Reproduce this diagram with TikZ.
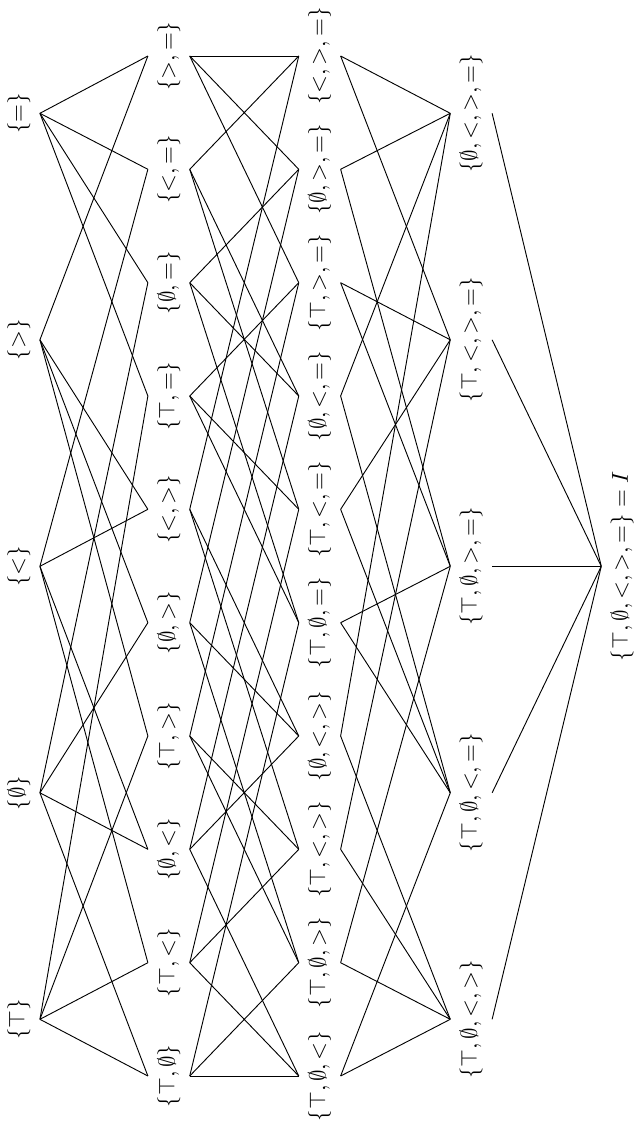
\documentclass[tikz,border=0pt]{standalone}
\begin{document}
\begin{tikzpicture}[x=0.4348pt,y=-0.4348pt,
  lbl/.style={rotate=90, inner sep=3.9pt},
  edge/.style={line width=0.4pt}]
\useasboundingbox (0,0) rectangle (643,1127);
% level 1
\node[lbl] (t) at (19,1019.3) {$\{\top\}$};
\node[lbl] (e) at (19,792.8) {$\{\emptyset\}$};
\node[lbl] (l) at (19,566.3) {$\{<\}$};
\node[lbl] (g) at (19,339.8) {$\{>\}$};
\node[lbl] (q) at (19,113.3) {$\{=\}$};
% level 2
\node[lbl] (te) at (168.8,1076) {$\{\top,\emptyset\}$};
\node[lbl] (tl) at (168.8,962.7) {$\{\top,<\}$};
\node[lbl] (el) at (168.8,849.3) {$\{\emptyset,<\}$};
\node[lbl] (tg) at (168.8,736) {$\{\top,>\}$};
\node[lbl] (eg) at (168.8,622.7) {$\{\emptyset,>\}$};
\node[lbl] (lg) at (168.8,509.3) {$\{<,>\}$};
\node[lbl] (tq) at (168.8,396) {$\{\top,=\}$};
\node[lbl] (eq) at (168.8,282.7) {$\{\emptyset,=\}$};
\node[lbl] (lq) at (168.8,169.3) {$\{<,=\}$};
\node[lbl] (gq) at (168.8,56) {$\{>,=\}$};
% level 3
\node[lbl] (tel) at (319.7,1076) {$\{\top,\emptyset,<\}$};
\node[lbl] (teg) at (319.7,962.7) {$\{\top,\emptyset,>\}$};
\node[lbl] (tlg) at (319.7,849.3) {$\{\top,<,>\}$};
\node[lbl] (elg) at (319.7,736) {$\{\emptyset,<,>\}$};
\node[lbl] (teq) at (319.7,622.7) {$\{\top,\emptyset,=\}$};
\node[lbl] (tlq) at (319.7,509.3) {$\{\top,<,=\}$};
\node[lbl] (elq) at (319.7,396) {$\{\emptyset,<,=\}$};
\node[lbl] (tgq) at (319.7,282.7) {$\{\top,>,=\}$};
\node[lbl] (egq) at (319.7,169.3) {$\{\emptyset,>,=\}$};
\node[lbl] (lgq) at (319.7,56) {$\{<,>,=\}$};
% level 4
\node[lbl] (telg) at (471.2,1019.3) {$\{\top,\emptyset,<,>\}$};
\node[lbl] (telq) at (471.2,792.8) {$\{\top,\emptyset,<,=\}$};
\node[lbl] (tegq) at (471.2,566.3) {$\{\top,\emptyset,>,=\}$};
\node[lbl] (tlgq) at (471.2,339.8) {$\{\top,<,>,=\}$};
\node[lbl] (elgq) at (471.2,113.3) {$\{\emptyset,<,>,=\}$};
% level 5
\node[lbl] (I) at (622.2,566.3) {$\{\top,\emptyset,<,>,=\} = I$};
% edges
\foreach \a/\b in {t/te,e/te,t/tl,l/tl,e/el,l/el,t/tg,g/tg,e/eg,g/eg,
  l/lg,g/lg,t/tq,q/tq,e/eq,q/eq,l/lq,q/lq,g/gq,q/gq,
  te/tel,tl/tel,el/tel,te/teg,tg/teg,eg/teg,tl/tlg,tg/tlg,lg/tlg,
  el/elg,eg/elg,lg/elg,te/teq,tq/teq,eq/teq,tl/tlq,tq/tlq,lq/tlq,
  el/elq,eq/elq,lq/elq,tg/tgq,tq/tgq,gq/tgq,eg/egq,eq/egq,gq/egq,
  lg/lgq,lq/lgq,gq/lgq,
  tel/telg,teg/telg,tlg/telg,elg/telg,tel/telq,teq/telq,tlq/telq,elq/telq,
  teg/tegq,teq/tegq,tgq/tegq,egq/tegq,tlg/tlgq,tlq/tlgq,tgq/tlgq,lgq/tlgq,
  elg/elgq,elq/elgq,egq/elgq,lgq/elgq,
  telg/I,telq/I,tegq/I,tlgq/I,elgq/I}
  \draw[edge] (\a.south) -- (\b.north);
\end{tikzpicture}
\end{document}
